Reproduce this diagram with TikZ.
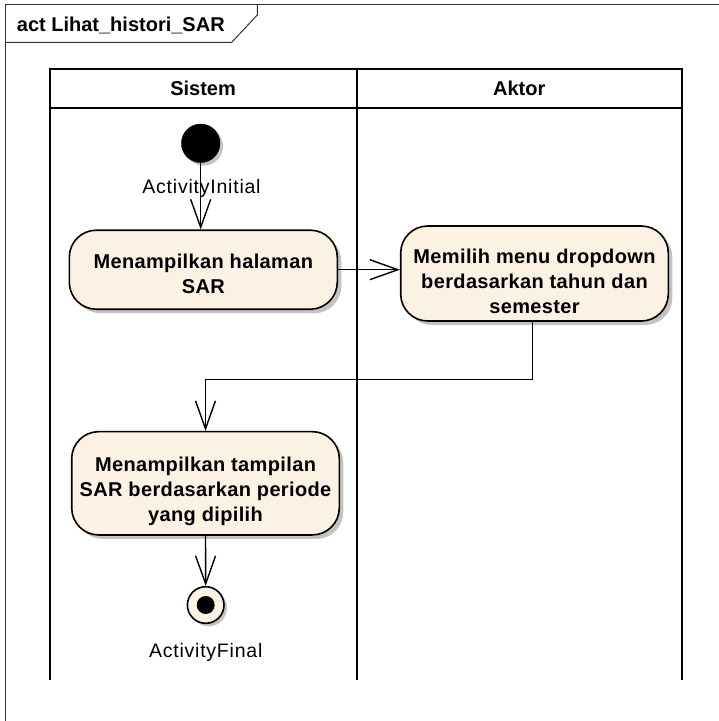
\documentclass[tikz,border=0pt]{standalone}
\usepackage{fontspec}
\setmainfont{Liberation Sans}
\usetikzlibrary{arrows.meta,shadows,calc}
\definecolor{cream}{RGB}{252,242,227}
\definecolor{shadowgray}{RGB}{195,195,195}
\begin{document}
\begin{tikzpicture}[x=1pt,y=-1pt,
  lane/.style={line width=2pt,black},
  framel/.style={line width=1pt,black!80},
  action/.style={draw=black,line width=1.6pt,fill=cream,rounded corners=27pt,
    inner sep=0pt,
    drop shadow={shadow xshift=4pt,shadow yshift=-4pt,fill=shadowgray,opacity=1}},
  atext/.style={align=center,inner sep=0pt,
    font=\fontsize{20}{25}\selectfont\bfseries\addfontfeature{LetterSpace=1.8}},
  flow/.style={line width=1.4pt,black,-{Straight Barb[length=28pt,width=20pt,line width=1.4pt]}},
  lbl/.style={font=\fontsize{19.5}{22}\selectfont\addfontfeature{LetterSpace=4},inner sep=0pt},
  hdr/.style={font=\fontsize{20}{24}\selectfont\bfseries,inner sep=0pt}
]
\useasboundingbox (0,0) rectangle (719,721);
% frame
\draw[framel] (5.7,721) -- (5.7,4.7) -- (719,4.7);
\draw[framel] (5.7,42.3) -- (231.7,42.3) -- (257.3,15) -- (257.3,4.7);
\node[anchor=base west,inner sep=0pt,font=\fontsize{20}{24}\selectfont\bfseries] (title) at (16.7,31.7) {act Lihat\_histori\_SAR};
% swimlanes
\draw[lane] (49.5,680) -- (49.5,68.7) -- (681.7,68.7) -- (681.7,680);
\draw[lane] (356.7,68.7) -- (356.7,680);
\draw[lane] (49.5,108.3) -- (681.7,108.3);
\node[hdr] (hsis) at (203.1,88.5) {Sistem};
\node[hdr] (hakt) at (519.2,88.5) {Aktor};
% initial
\node[circle,fill=black,draw=black,minimum size=38.6pt,inner sep=0pt,
  drop shadow={shadow xshift=3pt,shadow yshift=-3pt,fill=shadowgray,opacity=1}] (init) at (200.7,143.3) {};
\node[lbl] (initl) at (201.5,188.5) {ActivityInitial};
% actions
\node[action,minimum width=268pt,minimum height=79pt,
  label={[atext,yshift=-4.5pt]center:{Menampilkan halaman\\SAR}}] (act1) at (203.3,269.7) {};
\node[action,minimum width=267.6pt,minimum height=95pt,
  label={[atext,yshift=-7.8pt]center:{Memilih menu dropdown\\berdasarkan tahun dan\\semester}}] (act2) at (534.5,273.5) {};
\node[action,minimum width=267.6pt,minimum height=103.3pt,
  label={[atext,yshift=-8.5pt]center:{Menampilkan tampilan\\SAR berdasarkan periode\\yang dipilih}}] (act3) at (205.5,483.3) {};
% final
\node[circle,fill=cream,draw=black,line width=1.6pt,minimum size=36.6pt,inner sep=0pt,
  drop shadow={shadow xshift=3pt,shadow yshift=-3pt,fill=shadowgray,opacity=1}] (final) at (205.7,605) {};
\node[circle,fill=black,minimum size=18pt,inner sep=0pt] (finaldot) at (final.center) {};
\node[lbl] (finall) at (205.7,652) {ActivityFinal};
% flows
\draw[flow] (init.south) -- (init.south |- act1.north);
\draw[flow] (act1.east) -- (act1.east -| act2.west);
\coordinate (j1) at (532.7,379.3);
\draw[flow] (act2.south -| j1) -- (j1) -| (act3.north);
\draw[flow] (act3.south) -- (final.north);
\end{tikzpicture}
\end{document}
